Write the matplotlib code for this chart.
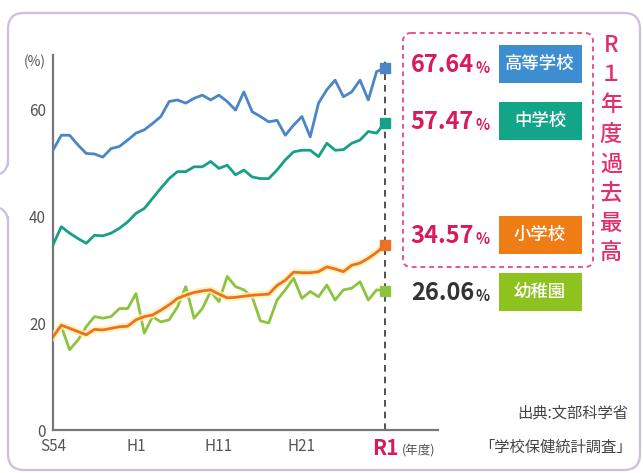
import matplotlib
matplotlib.use("Agg")
import matplotlib.pyplot as plt
from matplotlib.patches import FancyBboxPatch, Rectangle
from matplotlib.path import Path
from matplotlib.patches import PathPatch

plt.rcParams['font.family'] = ['Noto Sans CJK JP', 'DejaVu Sans']

# 年度 (S54 = 1979 ... R1 = 2019)
years = list(range(1979, 2020))
tick_years = [1979, 1989, 1999, 2009, 2019]
tick_labels = ["S54", "H1", "H11", "H21", "R1"]

# 裸眼視力1.0未満の割合 (%)
high = [52.3, 55.1, 55.1, 53.3, 51.7, 51.6, 51.0, 52.6, 53.0, 54.2,
        55.5, 56.1, 57.3, 58.6, 61.4, 61.7, 61.1, 62.0, 62.6, 61.7,
        62.6, 61.4, 59.8, 63.2, 59.5, 58.6, 57.6, 57.9, 55.1, 57.0,
        58.6, 54.8, 61.1, 63.6, 65.4, 62.3, 63.2, 65.4, 61.7, 67.0, 67.64]
mid = [34.6, 38.0, 36.8, 35.8, 34.9, 36.4, 36.3, 36.8, 37.7, 38.9,
       40.5, 41.4, 43.3, 45.2, 47.0, 48.3, 48.3, 49.2, 49.2, 50.2,
       48.9, 49.5, 47.7, 48.6, 47.3, 47.0, 47.0, 48.6, 50.5, 52.0,
       52.3, 52.3, 51.1, 53.6, 52.3, 52.4, 53.6, 54.2, 55.8, 55.5, 57.47]
elem = [17.4, 19.6, 19.0, 18.4, 17.8, 18.8, 18.7, 19.0, 19.3, 19.4,
        20.6, 21.2, 21.5, 22.4, 23.4, 24.6, 25.2, 25.7, 26.0, 26.2,
        25.4, 24.7, 24.8, 25.0, 25.2, 25.3, 25.4, 27.0, 28.0, 29.5,
        29.4, 29.4, 29.6, 30.5, 30.1, 29.6, 30.8, 31.2, 32.1, 33.2, 34.57]
kinder = [17.8, 19.4, 15.0, 16.8, 19.3, 21.2, 20.9, 21.2, 22.7, 22.7,
          25.5, 18.1, 21.2, 20.2, 20.6, 23.0, 26.8, 20.9, 22.7, 25.9,
          24.0, 28.7, 26.8, 26.2, 24.9, 20.4, 20.0, 24.3, 26.2, 28.4,
          24.6, 25.9, 24.9, 27.1, 24.3, 26.2, 26.5, 27.7, 24.3, 26.2, 26.06]

names = ["高等学校", "中学校", "小学校", "幼稚園"]
values = ["67.64", "57.47", "34.57", "26.06"]

c_high = "#4a86c5"
c_mid = "#16a085"
c_elem = "#ec7125"
c_kind = "#8cc33f"
pink = "#d81b5a"

W, H = 643, 473
fig = plt.figure(figsize=(W / 100, H / 100), dpi=100)

# background layer in pixel coordinates
bg = fig.add_axes([0, 0, 1, 1])
bg.set_xlim(0, W)
bg.set_ylim(H, 0)
bg.axis("off")

frame = FancyBboxPatch((8, 13), 632, 457, boxstyle="round,pad=0,rounding_size=16",
                       fc="white", ec="#cdbfdc", lw=1.6)
bg.add_patch(frame)
# speech bubble notch on the left
bg.add_patch(Rectangle((4, 166), 10, 50, fc="white", ec="none", zorder=3))
for verts in ([(8, 160), (8, 170), (0, 174)], [(0, 208), (8, 212), (8, 222)]):
    bg.add_patch(PathPatch(Path(verts, [Path.MOVETO, Path.CURVE3, Path.CURVE3]),
                           fc="none", ec="#cdbfdc", lw=1.6, zorder=4))

# dashed pink box
bg.add_patch(FancyBboxPatch((403, 33), 190, 234, boxstyle="round,pad=0,rounding_size=8",
                            fc="none", ec="#e4588a", lw=1.4, ls=(0, (2.5, 2))))

# value labels and coloured name boxes
box_colors = ["#3d8ed0", "#13a588", "#ef7d16", "#8dc21f"]
num_colors = [pink, pink, pink, "#333333"]
ys = [64, 121, 235, 292]
for name, val, bc, nc, y in zip(names, values, box_colors, num_colors, ys):
    bg.text(474, y + 1, val, ha="right", va="center", fontsize=17,
            fontweight="bold", color=nc)
    bg.text(475, y + 4, "%", ha="left", va="center", fontsize=10.5,
            fontweight="bold", color=nc)
    bg.add_patch(Rectangle((499, y - 19), 83, 38, fc=bc, ec="none"))
    bg.text(540, y, name, ha="center", va="center", fontsize=12.5,
            fontweight="medium", color="white")

# vertical caption
for i, ch in enumerate("R１年度過去最高"):
    bg.text(611, 45 + i * 29.7, ch, ha="center", va="center", fontsize=16,
            fontweight="medium", color="#e0306a")

# source
bg.text(628, 413, "出典:文部科学省", ha="right", va="center", fontsize=11, color="#444444")
bg.text(632, 447, "「学校保健統計調査」", ha="right", va="center", fontsize=11, color="#444444")
bg.text(419, 451, "(年度)", ha="center", va="center", fontsize=9, color="#555555")

# main chart
ax = fig.add_axes([53 / W, 43 / H, 385 / W, 375 / H])
ax.set_facecolor("none")
ax.plot(years, high, color=c_high, lw=2, zorder=3)
ax.plot(years, mid, color=c_mid, lw=2, zorder=3)
ax.plot(years, kinder, color=c_kind, lw=2, zorder=3)
ax.plot(years, elem, color="#fff0a8", lw=5, alpha=0.8, zorder=3)
ax.plot(years, elem, color=c_elem, lw=2, zorder=4)

for s, c in zip([high, mid, elem, kinder], [c_high, c_mid, c_elem, c_kind]):
    ax.plot(years[-1], s[-1], marker="s", ms=6.5, color=c, zorder=5, clip_on=False)

ax.vlines(2019, 0, 69.7, colors="#333333", lw=1.2, linestyles=(0, (4, 3)), zorder=2)

ax.set_xlim(1979, 2025.4)
ax.set_ylim(0, 70.1)
ax.set_yticks([0, 20, 40, 60])
ax.set_xticks(tick_years)
ax.set_xticklabels(tick_labels)
ax.tick_params(length=0, labelsize=11, colors="#555555", pad=5)
ax.tick_params(axis="x", pad=6)
r1 = ax.get_xticklabels()[-1]
r1.set_color(pink)
r1.set_fontsize(15)
r1.set_fontweight("bold")
for side in ["top", "right"]:
    ax.spines[side].set_visible(False)
for side in ["left", "bottom"]:
    ax.spines[side].set_color("#777777")
    ax.spines[side].set_linewidth(1.6)
ax.text(-0.02, 1.0, "(%)", transform=ax.transAxes, ha="right", va="top",
        fontsize=10, color="#555555")

fig.savefig("out.png", dpi=100)
